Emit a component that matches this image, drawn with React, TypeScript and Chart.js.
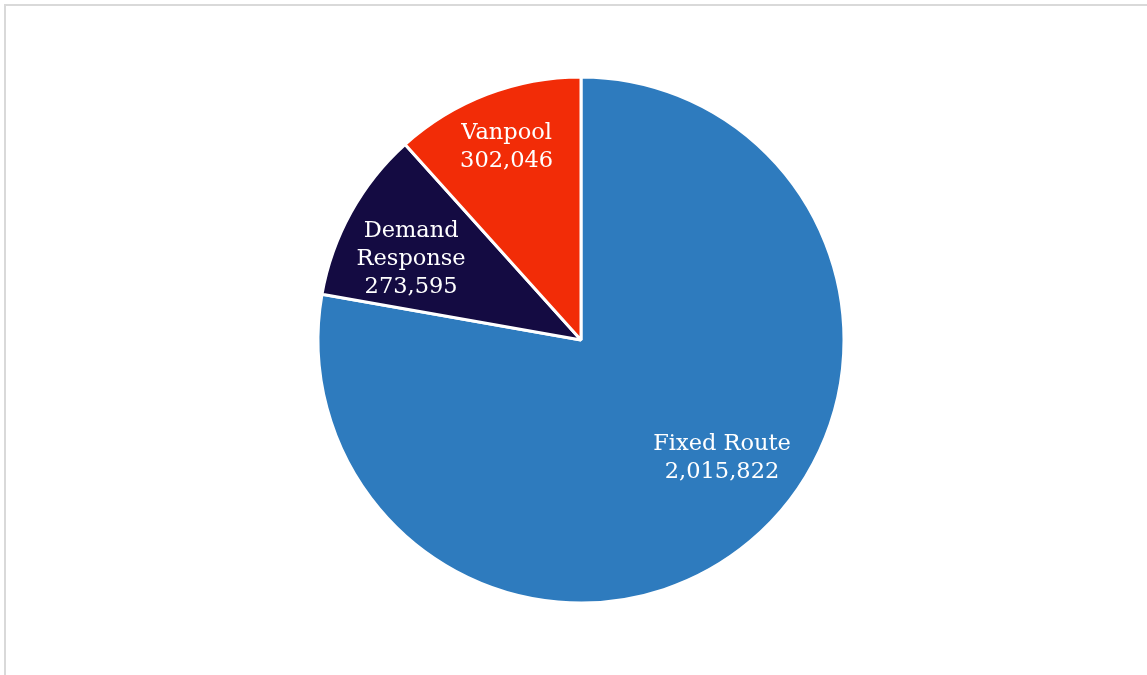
import React, { useEffect, useRef } from "react";
import { Chart, registerables } from "chart.js";

Chart.register(...registerables);

const categories = ["Fixed Route", "Demand Response", "Vanpool"];
const labelLines = [["Fixed Route"], ["Demand", "Response"], ["Vanpool"]];
const values = [2015822, 273595, 302046];
const colors = ["#2E7BBE", "#140B42", "#F22C07"];

// label placement styling (fraction of radius, angular tweak in degrees)
const labelRadiusFrac = [0.697, 0.717, 0.79];
const labelAngleDelta = [-10.3, -3.3, 0];

const fmt = (v: number) => v.toLocaleString("en-US");

const labelPlugin = {
  id: "sliceLabels",
  afterDatasetsDraw(chart: any) {
    const meta = chart.getDatasetMeta(0);
    const ctx = chart.ctx;
    ctx.save();
    ctx.font = '22.5px "DejaVu Serif"';
    ctx.fillStyle = "#ffffff";
    ctx.textAlign = "center";
    ctx.textBaseline = "middle";
    const lh = 28;
    meta.data.forEach((arc: any, i: number) => {
      const { x, y, startAngle, endAngle, outerRadius } = arc.getProps(
        ["x", "y", "startAngle", "endAngle", "outerRadius"],
        true
      );
      const a = (startAngle + endAngle) / 2 + (labelAngleDelta[i] * Math.PI) / 180;
      const r = outerRadius * labelRadiusFrac[i];
      const cx = x + Math.cos(a) * r;
      const cy = y + Math.sin(a) * r + 1;
      const lines = [...labelLines[i], fmt(values[i])];
      const top = cy - ((lines.length - 1) * lh) / 2;
      lines.forEach((t, k) => ctx.fillText(t, cx, top + k * lh));
    });
    ctx.restore();
  },
};

export default function App() {
  const ref = useRef<HTMLCanvasElement>(null);
  useEffect(() => {
    if (!ref.current) return;
    const chart = new Chart(ref.current, {
      type: "pie",
      data: {
        labels: categories,
        datasets: [
          {
            data: values,
            backgroundColor: colors,
            borderColor: "#ffffff",
            borderWidth: 3,
            hoverOffset: 0,
          },
        ],
      },
      options: {
        animation: false,
        responsive: false,
        radius: 263,
        layout: { padding: { left: 15, right: 0, top: 5, bottom: 0 } },
        plugins: {
          legend: { display: false },
          tooltip: { enabled: false },
        },
      } as any,
      plugins: [labelPlugin],
    });
    return () => chart.destroy();
  }, []);
  return (
    <div style={{ position: "fixed", left: 0, top: 0, width: 1147, height: 675, background: "#fff", overflow: "hidden" }}>
      <div
        style={{
          position: "absolute",
          left: 4,
          top: 4,
          width: 1200,
          height: 720,
          border: "2px solid #d9d9d9",
          boxSizing: "border-box",
        }}
      />
      <canvas ref={ref} width={1147} height={675} style={{ position: "absolute", left: 0, top: 0 }} />
    </div>
  );
}
